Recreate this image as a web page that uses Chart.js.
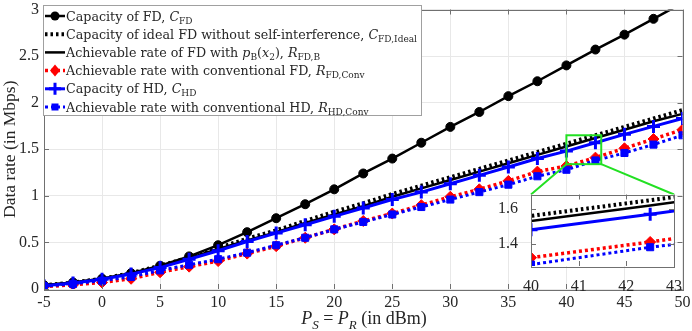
<!DOCTYPE html>
<html>
<head>
<meta charset="utf-8">
<script src="https://cdn.jsdelivr.net/npm/chart.js@4.4.0/dist/chart.umd.min.js"></script>
<style>
  body { margin: 0; background: #fff; }
  #wrap { position: relative; width: 692px; height: 331px; }
  #inset { position: absolute; left: 495px; top: 185px; }
</style>
</head>
<body>
<div id="wrap">
  <canvas id="main" width="692" height="331"></canvas>
  <canvas id="inset" width="195" height="108"></canvas>
</div>
<script>
// x values (dBm)
const power = [-5, -2.5, 0, 2.5, 5, 7.5, 10, 12.5, 15, 17.5, 20, 22.5, 25, 27.5, 30, 32.5, 35, 37.5, 40, 42.5, 45, 47.5, 50];

// series values (Mbps)
const capFD      = [0.04, 0.07, 0.11, 0.17, 0.25, 0.35, 0.47, 0.61, 0.76, 0.91, 1.07, 1.24, 1.40, 1.57, 1.74, 1.90, 2.07, 2.23, 2.40, 2.57, 2.73, 2.90, 3.07];
const capIdeal   = [0.04, 0.07, 0.11, 0.17, 0.25, 0.34, 0.44, 0.54, 0.63, 0.73, 0.83, 0.92, 1.02, 1.11, 1.20, 1.29, 1.38, 1.47, 1.56, 1.65, 1.74, 1.83, 1.92];
const rateFDB    = [0.04, 0.07, 0.11, 0.165, 0.24, 0.33, 0.43, 0.52, 0.61, 0.71, 0.80, 0.89, 0.99, 1.08, 1.17, 1.26, 1.35, 1.44, 1.53, 1.62, 1.71, 1.80, 1.88];
const rateFDConv = [0.025, 0.045, 0.07, 0.11, 0.18, 0.24, 0.30, 0.38, 0.46, 0.55, 0.64, 0.73, 0.81, 0.90, 0.99, 1.07, 1.16, 1.26, 1.32, 1.41, 1.51, 1.61, 1.71];
const capHD      = [0.035, 0.065, 0.105, 0.16, 0.23, 0.32, 0.41, 0.51, 0.60, 0.69, 0.78, 0.87, 0.96, 1.04, 1.13, 1.22, 1.31, 1.40, 1.48, 1.57, 1.66, 1.745, 1.83];
const rateHDConv = [0.03, 0.055, 0.09, 0.13, 0.20, 0.26, 0.32, 0.39, 0.47, 0.55, 0.64, 0.72, 0.80, 0.88, 0.96, 1.04, 1.12, 1.21, 1.28, 1.38, 1.46, 1.55, 1.65];

// legend labels: [text, style]
const legendLabels = [
  [["Capacity of FD, ", "rm"], ["C", "it"], ["FD", "sub"]],
  [["Capacity of ideal FD without self-interference, ", "rm"], ["C", "it"], ["FD,Ideal", "sub"]],
  [["Achievable rate of FD with ", "rm"], ["p", "it"], ["B", "sub"], ["(", "rm"], ["x", "it"], ["2", "sub"], ["), ", "rm"], ["R", "it"], ["FD,B", "sub"]],
  [["Achievable rate with conventional FD, ", "rm"], ["R", "it"], ["FD,Conv", "sub"]],
  [["Capacity of HD, ", "rm"], ["C", "it"], ["HD", "sub"]],
  [["Achievable rate with conventional HD, ", "rm"], ["R", "it"], ["HD,Conv", "sub"]]
];
const xTitle = [["P", "it"], ["S", "subit"], [" = ", "rm"], ["P", "it"], ["R", "subit"], [" (in dBm)", "rm"]];

// zoom window
const zoomX = [40, 43];
const zoomY = [1.34, 1.65];

const FONT = '"Liberation Serif", "Times New Roman", serif';
const LFONT = '"DejaVu Serif", serif';
const TXT = "#262626";

function pts(arr) {
  return power.map((p, i) => ({ x: p, y: arr[i] }));
}

function makeSets() {
  return [
    { label: "C_FD", data: pts(capFD), borderColor: "#000", backgroundColor: "#000", borderWidth: 2.5,
      pointStyle: "circle", pointRadius: 4.5, pointBorderWidth: 1, order: 6 },
    { label: "C_FD,Ideal", data: pts(capIdeal), borderColor: "#000", borderWidth: 4, borderDash: [2.5, 3],
      pointRadius: 0, order: 5 },
    { label: "R_FD,B", data: pts(rateFDB), borderColor: "#000", borderWidth: 2.5, pointRadius: 0, order: 4 },
    { label: "R_FD,Conv", data: pts(rateFDConv), borderColor: "#ff0000", backgroundColor: "#ff0000", borderWidth: 3.5,
      borderDash: [3, 3], pointStyle: "rectRot", pointRadius: 5.5, pointBorderWidth: 1, pointBorderColor: "#ff0000", order: 3 },
    { label: "C_HD", data: pts(capHD), borderColor: "#0000ff", backgroundColor: "#0000ff", borderWidth: 3,
      pointStyle: "cross", pointRadius: 6.5, pointBorderWidth: 3, order: 2 },
    { label: "R_HD,Conv", data: pts(rateHDConv), borderColor: "#0000ff", backgroundColor: "#0000ff", borderWidth: 3,
      borderDash: [3, 3], pointStyle: "rect", pointRadius: 5, pointBorderWidth: 1, order: 1 }
  ];
}

function richText(ctx, x, y, parts, size, fam, measureOnly) {
  for (const [t, s] of parts) {
    let dy = 0;
    if (s === "it") ctx.font = "italic " + size + "px " + fam;
    else if (s === "sub") { ctx.font = Math.round(size * 0.7) + "px " + fam; dy = size * 0.25; }
    else if (s === "subit") { ctx.font = "italic " + Math.round(size * 0.7) + "px " + fam; dy = size * 0.25; }
    else ctx.font = size + "px " + fam;
    if (!measureOnly) ctx.fillText(t, x, y + dy);
    x += ctx.measureText(t).width;
  }
  return x;
}

// box + inward ticks
function drawFrame(chart, ctx) {
  const a = chart.chartArea, sx = chart.scales.x, sy = chart.scales.y;
  ctx.save();
  ctx.strokeStyle = "#707070";
  ctx.lineWidth = 1;
  ctx.beginPath();
  sx.ticks.forEach(t => {
    const px = Math.round(sx.getPixelForValue(t.value)) + 0.5;
    ctx.moveTo(px, a.bottom); ctx.lineTo(px, a.bottom - 5);
    ctx.moveTo(px, a.top); ctx.lineTo(px, a.top + 5);
  });
  sy.ticks.forEach(t => {
    const py = Math.round(sy.getPixelForValue(t.value)) + 0.5;
    ctx.moveTo(a.left, py); ctx.lineTo(a.left + 5, py);
    ctx.moveTo(a.right, py); ctx.lineTo(a.right - 5, py);
  });
  ctx.stroke();
  ctx.strokeRect(Math.round(a.left) + 0.5, Math.round(a.top) + 0.5, Math.round(a.right - a.left), Math.round(a.bottom - a.top));
  ctx.restore();
}

function drawMarker(ctx, kind, x, y) {
  ctx.save();
  ctx.setLineDash([]);
  if (kind === "circle") {
    ctx.fillStyle = "#000"; ctx.beginPath(); ctx.arc(x, y, 4.5, 0, Math.PI * 2); ctx.fill();
  } else if (kind === "diamond") {
    ctx.fillStyle = "#ff0000"; ctx.beginPath();
    ctx.moveTo(x, y - 6); ctx.lineTo(x + 5, y); ctx.lineTo(x, y + 6); ctx.lineTo(x - 5, y); ctx.closePath(); ctx.fill();
  } else if (kind === "cross") {
    ctx.strokeStyle = "#0000ff"; ctx.lineWidth = 3; ctx.beginPath();
    ctx.moveTo(x - 6, y); ctx.lineTo(x + 6, y); ctx.moveTo(x, y - 6); ctx.lineTo(x, y + 6); ctx.stroke();
  } else if (kind === "square") {
    ctx.fillStyle = "#0000ff"; ctx.fillRect(x - 3.5, y - 3.5, 7, 7);
  }
  ctx.restore();
}

const legendStyles = [
  { color: "#000", width: 2.5, dash: [], marker: "circle" },
  { color: "#000", width: 4, dash: [2.5, 3], marker: null },
  { color: "#000", width: 2.5, dash: [], marker: null },
  { color: "#ff0000", width: 3.5, dash: [3, 3], marker: "diamond" },
  { color: "#0000ff", width: 3, dash: [], marker: "cross" },
  { color: "#0000ff", width: 3, dash: [3, 3], marker: "square" }
];

const tickFmt = v => String(Math.round(v * 10) / 10);

const insetPlugin = {
  id: "insetDeco",
  beforeDatasetsDraw(chart) {
    const ctx = chart.ctx, a = chart.chartArea;
    ctx.save();
    ctx.fillStyle = "#fff";
    ctx.fillRect(a.left, a.top, a.right - a.left, a.bottom - a.top);
    ctx.restore();
  },
  afterDatasetsDraw(chart) { drawFrame(chart, chart.ctx); }
};

const insetChart = new Chart(document.getElementById("inset"), {
  type: "line",
  data: { datasets: makeSets() },
  options: {
    responsive: false,
    animation: false,
    layout: { padding: { top: 7, right: 16, left: 0, bottom: 0 } },
    plugins: { legend: { display: false }, tooltip: { enabled: false } },
    scales: {
      x: {
        type: "linear", min: zoomX[0], max: zoomX[1],
        ticks: { stepSize: 1, color: TXT, font: { family: FONT, size: 16 }, padding: 3, maxRotation: 0 },
        grid: { display: false }, border: { display: false },
        afterFit(s) { s.height = 27; s.paddingLeft = 0; s.paddingRight = 0; }
      },
      y: {
        min: 1.272, max: 1.683,
        afterBuildTicks(s) { s.ticks = [{ value: 1.4 }, { value: 1.6 }]; },
        ticks: { color: TXT, font: { family: FONT, size: 16 }, padding: 5, callback: tickFmt },
        grid: { display: false }, border: { display: false },
        afterFit(s) { s.width = 36; s.paddingTop = 0; s.paddingBottom = 0; }
      }
    }
  },
  plugins: [insetPlugin]
});

const mainPlugin = {
  id: "mainDeco",
  afterDatasetsDraw(chart) {
    const ctx = chart.ctx, sx = chart.scales.x, sy = chart.scales.y;
    drawFrame(chart, ctx);
    // zoom rectangle and connectors
    const x0 = sx.getPixelForValue(zoomX[0]), x1 = sx.getPixelForValue(zoomX[1]);
    const y0 = sy.getPixelForValue(zoomY[1]), y1 = sy.getPixelForValue(zoomY[0]);
    const ia = insetChart.chartArea;
    ctx.save();
    ctx.strokeStyle = "#22e022";
    ctx.lineWidth = 2;
    ctx.strokeRect(x0, y0, x1 - x0, y1 - y0);
    ctx.beginPath();
    ctx.moveTo(x0, y1); ctx.lineTo(495 + ia.left, 185 + ia.top);
    ctx.moveTo(x1, y1); ctx.lineTo(495 + ia.right, 185 + ia.top);
    ctx.stroke();
    ctx.restore();
  },
  afterDraw(chart) {
    const ctx = chart.ctx;
    ctx.save();
    ctx.fillStyle = TXT;
    ctx.textBaseline = "alphabetic";
    // x axis title
    const w = richText(ctx, 0, 0, xTitle, 18, FONT, true);
    richText(ctx, 364 - w / 2, 324, xTitle, 18, FONT);
    // legend
    const size = 12.7, rowH = 18.2, top = 5, left = 43;
    let maxR = 0;
    legendLabels.forEach(p => { maxR = Math.max(maxR, richText(ctx, left + 23, 0, p, size, LFONT, true)); });
    ctx.fillStyle = "#fff";
    ctx.fillRect(left, top, maxR + 4 - left, 110);
    ctx.strokeStyle = "#a0a0a0"; ctx.lineWidth = 1;
    ctx.strokeRect(left + 0.5, top + 0.5, maxR + 4 - left, 110);
    legendLabels.forEach((p, i) => {
      const cy = top + 11 + i * rowH;
      const st = legendStyles[i];
      ctx.save();
      ctx.strokeStyle = st.color; ctx.lineWidth = st.width; ctx.setLineDash(st.dash);
      ctx.beginPath(); ctx.moveTo(left + 2, cy); ctx.lineTo(left + 22, cy); ctx.stroke();
      ctx.restore();
      if (st.marker) drawMarker(ctx, st.marker, left + 12, cy);
      ctx.fillStyle = TXT;
      richText(ctx, left + 23, cy + 4.5, p, size, LFONT);
    });
    ctx.restore();
  }
};

const mainChart = new Chart(document.getElementById("main"), {
  type: "line",
  data: { datasets: makeSets() },
  options: {
    responsive: false,
    animation: false,
    layout: { padding: { top: 6, right: 6, left: 0, bottom: 0 } },
    plugins: { legend: { display: false }, tooltip: { enabled: false } },
    scales: {
      x: {
        type: "linear", min: -5, max: 50,
        ticks: { stepSize: 5, color: TXT, font: { family: FONT, size: 16 }, padding: 4, maxRotation: 0 },
        grid: { color: "#e8e8e8", drawTicks: false }, border: { display: false },
        afterFit(s) { s.height = 42; s.paddingLeft = 0; s.paddingRight = 0; }
      },
      y: {
        min: 0, max: 3,
        ticks: { stepSize: 0.5, color: TXT, font: { family: FONT, size: 16 }, padding: 5, callback: tickFmt },
        grid: { color: "#e8e8e8", drawTicks: false }, border: { display: false },
        title: { display: true, text: "Data rate (in Mbps)", color: TXT, font: { family: FONT, size: 17.5 }, padding: 0 },
        afterFit(s) { s.width = 44; s.paddingTop = 0; s.paddingBottom = 0; }
      }
    }
  },
  plugins: [mainPlugin]
});
</script>
</body>
</html>
